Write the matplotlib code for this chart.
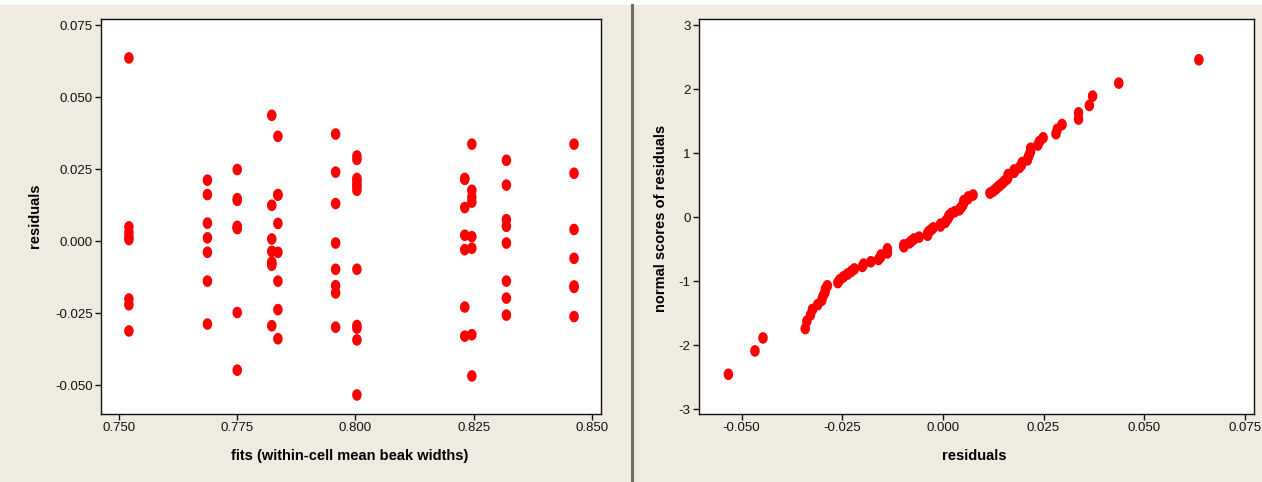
import statistics

import numpy as np
import matplotlib
matplotlib.use('Agg')
import matplotlib.pyplot as plt
from matplotlib.ticker import FormatStrFormatter
from matplotlib.lines import Line2D
from matplotlib.patches import Rectangle

plt.rcParams['font.family'] = ['Liberation Sans', 'DejaVu Sans']
plt.rcParams['axes.unicode_minus'] = False

# within-cell fitted values (one per column of dots)
fits = [0.7521, 0.7687, 0.7750, 0.7823, 0.7836, 0.7958,
        0.8003, 0.8231, 0.8246, 0.8319, 0.8462]

# residuals, one list per fitted value
res_1 = [0.0636, 0.0050, 0.0030, 0.0014, 0.0006, -0.0200, -0.0220, -0.0311]
res_2 = [0.0212, 0.0162, 0.0063, 0.0012, -0.0038, -0.0138, -0.0287]
res_3 = [0.0249, 0.0148, 0.0142, 0.0052, 0.0048, 0.0044, -0.0247, -0.0447]
res_4 = [0.0437, 0.0125, 0.0008, -0.0035, -0.0072, -0.0078, -0.0083, -0.0293]
res_5 = [0.0364, 0.0162, 0.0160, 0.0062, -0.0038, -0.0138, -0.0237, -0.0338]
res_6 = [0.0372, 0.0240, 0.0131, -0.0006, -0.0097, -0.0154, -0.0179, -0.0298]
res_7 = [0.0296, 0.0284, 0.0218, 0.0210, 0.0197, 0.0190, 0.0177,
         -0.0097, -0.0292, -0.0301, -0.0342, -0.0533]
res_8 = [0.0218, 0.0215, 0.0117, 0.0021, -0.0029, -0.0228, -0.0329]
res_9 = [0.0337, 0.0177, 0.0153, 0.0136, 0.0016, -0.0024, -0.0324, -0.0467]
res_10 = [0.0281, 0.0195, 0.0075, 0.0052, -0.0006, -0.0138, -0.0197, -0.0256]
res_11 = [0.0337, 0.0236, 0.0041, -0.0059, -0.0155, -0.0160, -0.0261]

groups = [res_1, res_2, res_3, res_4, res_5, res_6,
          res_7, res_8, res_9, res_10, res_11]

left_xticks = [0.750, 0.775, 0.800, 0.825, 0.850]
left_yticks = [-0.050, -0.025, 0.000, 0.025, 0.050, 0.075]
right_xticks = [-0.050, -0.025, 0.000, 0.025, 0.050, 0.075]
right_yticks = [-3, -2, -1, 0, 1, 2, 3]

x_fit = np.concatenate([[f] * len(g) for f, g in zip(fits, groups)])
y_res = np.concatenate(groups)

# normal scores (Blom) for the probability plot
res_sorted = np.sort(y_res)
n = len(res_sorted)
nd = statistics.NormalDist()
nscores = np.array([nd.inv_cdf((i - 0.375) / (n + 0.25)) for i in range(1, n + 1)])

W, H = 1262, 482
bg = '#EFEBE1'
fig = plt.figure(figsize=(W / 100, H / 100), dpi=100, facecolor=bg)


def px_axes(l, t, r, b):
    return fig.add_axes([l / W, 1 - b / H, (r - l) / W, (b - t) / H])


# white strip along the top and the grey divider between panels
fig.patches.append(Rectangle((0, 1 - 5 / H), 1, 5 / H, transform=fig.transFigure,
                             facecolor='white', edgecolor='none', zorder=0))
fig.lines.append(Line2D([632 / W, 632 / W], [0, 1 - 5 / H], transform=fig.transFigure,
                        color='#6F6B66', linewidth=2.2))

# slightly tall ellipse, like the minitab dots
t = np.linspace(0, 2 * np.pi, 41)
dot = np.column_stack([0.82 * np.cos(t), np.sin(t)])


def style(ax):
    ax.set_facecolor('white')
    for sp in ax.spines.values():
        sp.set_linewidth(1.0)
        sp.set_color('#111111')
    ax.tick_params(direction='out', length=4, width=1, labelsize=9.5, pad=2,
                   colors='#111111')
    ax.tick_params(top=False, right=False)


ax1 = px_axes(101, 19, 601, 414)
ax1.scatter(x_fit, y_res, marker=dot, s=70, color='#FF0000', edgecolors='none')
ax1.set_xlim(0.7462, 0.8519)
ax1.set_ylim(-0.0599, 0.0771)
ax1.set_xticks(left_xticks)
ax1.set_yticks(left_yticks)
ax1.xaxis.set_major_formatter(FormatStrFormatter('%.3f'))
ax1.yaxis.set_major_formatter(FormatStrFormatter('%.3f'))
style(ax1)
ax1.set_xlabel('fits (within-cell mean beak widths)', fontsize=10.5, fontweight='bold')
ax1.set_ylabel('residuals', fontsize=10.5, fontweight='bold')
ax1.xaxis.set_label_coords(0.498, -0.106)
ax1.xaxis.label.set_va('center')
ax1.yaxis.set_label_coords(-0.132, 0.501)
ax1.yaxis.label.set_va('center')

ax2 = px_axes(699, 19, 1254, 414)
ax2.scatter(res_sorted, nscores, marker=dot, s=70, color='#FF0000', edgecolors='none')
ax2.set_xlim(-0.0606, 0.0773)
ax2.set_ylim(-3.078, 3.094)
ax2.set_xticks(right_xticks)
ax2.set_yticks(right_yticks)
ax2.xaxis.set_major_formatter(FormatStrFormatter('%.3f'))
style(ax2)
ax2.set_xlabel('residuals', fontsize=10.5, fontweight='bold')
ax2.set_ylabel('normal scores of residuals', fontsize=10.5, fontweight='bold')
ax2.xaxis.set_label_coords(0.496, -0.106)
ax2.xaxis.label.set_va('center')
ax2.yaxis.set_label_coords(-0.068, 0.495)
ax2.yaxis.label.set_va('center')

fig.savefig('out.png', dpi=100, facecolor=bg)
